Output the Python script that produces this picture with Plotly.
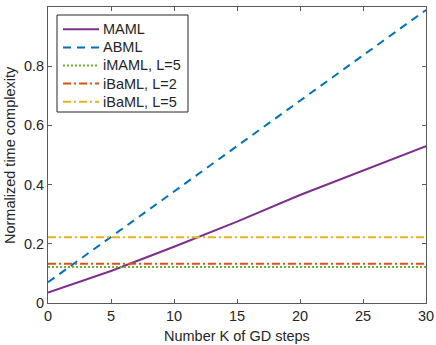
import plotly.graph_objects as pgo

k_steps = [0, 5, 10, 15, 20, 25, 30]
maml = [0.035, 0.108, 0.19, 0.275, 0.365, 0.448, 0.53]
abml = [0.07, 0.223, 0.377, 0.53, 0.683, 0.837, 0.99]
imaml_l5 = [0.122] * len(k_steps)
ibaml_l2 = [0.133] * len(k_steps)
ibaml_l5 = [0.222] * len(k_steps)

series = [
    ("MAML", maml, "#7E2F8E", "solid"),
    ("ABML", abml, "#0072BD", "8px,6px"),
    ("iMAML, L=5", imaml_l5, "#77AC30", "2px,2px"),
    ("iBaML, L=2", ibaml_l2, "#D95319", "8px,3px,2px,3px"),
    ("iBaML, L=5", ibaml_l5, "#EDB120", "8px,3px,2px,3px"),
]

W, H = 436, 345
M = dict(l=48, r=10, t=7, b=42)
FONT = "Liberation Sans, Arial, sans-serif"
TXT = "#262626"


def px_x(px):
    # pixel column -> paper x
    return (px - M["l"]) / (W - M["l"] - M["r"])


def px_y(py):
    # pixel row -> paper y
    return (H - M["b"] - py) / (H - M["t"] - M["b"])


fig = pgo.Figure()
for name, vals, color, dash in series:
    fig.add_trace(pgo.Scatter(
        x=k_steps, y=vals, name=name, mode="lines",
        line=dict(color=color, width=2, dash=dash),
        showlegend=False,
    ))

# MATLAB-like legend box, drawn by hand so the rows sit tight
fig.add_shape(
    type="rect", xref="paper", yref="paper",
    x0=px_x(57), x1=px_x(188), y0=px_y(15), y1=px_y(112),
    line=dict(color=TXT, width=1), fillcolor="white", layer="above",
)
for i, (name, vals, color, dash) in enumerate(series):
    row = 29.3 + 18.1 * i
    fig.add_shape(
        type="line", xref="paper", yref="paper",
        x0=px_x(63), x1=px_x(99), y0=px_y(row), y1=px_y(row),
        line=dict(color=color, width=2, dash=dash), layer="above",
    )
    fig.add_annotation(
        text=name, xref="paper", yref="paper", x=px_x(101), y=px_y(row),
        xanchor="left", yanchor="middle", showarrow=False,
        font=dict(size=14.5, color=TXT),
    )

axis_style = dict(
    showline=True, linecolor="#5a5a5a", linewidth=1, mirror="ticks",
    ticks="inside", ticklen=4, tickcolor="#5a5a5a",
    showgrid=False, zeroline=False, automargin=False,
    tickfont=dict(size=14.5, color=TXT),
)

fig.add_annotation(
    text="Number K of GD steps", xref="paper", yref="paper",
    x=0.5, y=px_y(336), xanchor="center", yanchor="middle", showarrow=False,
    font=dict(size=14.5, color=TXT),
)
fig.add_annotation(
    text="Normalized time complexity", xref="paper", yref="paper",
    x=px_x(10), y=0.5, xanchor="center", yanchor="middle", showarrow=False,
    textangle=-90, font=dict(size=14.5, color=TXT),
)

fig.update_layout(
    width=W, height=H,
    margin=M,
    paper_bgcolor="white", plot_bgcolor="white",
    font=dict(family=FONT, size=14.5, color=TXT),
    showlegend=False,
    xaxis=dict(range=[0, 30], dtick=5, **axis_style),
    yaxis=dict(range=[0, 1], dtick=0.2, **axis_style),
)

# the page body has a default margin that shifts the figure
fig.write_html(
    "out.html",
    config={"displayModeBar": False},
    post_script="document.body.style.margin='0';",
)
